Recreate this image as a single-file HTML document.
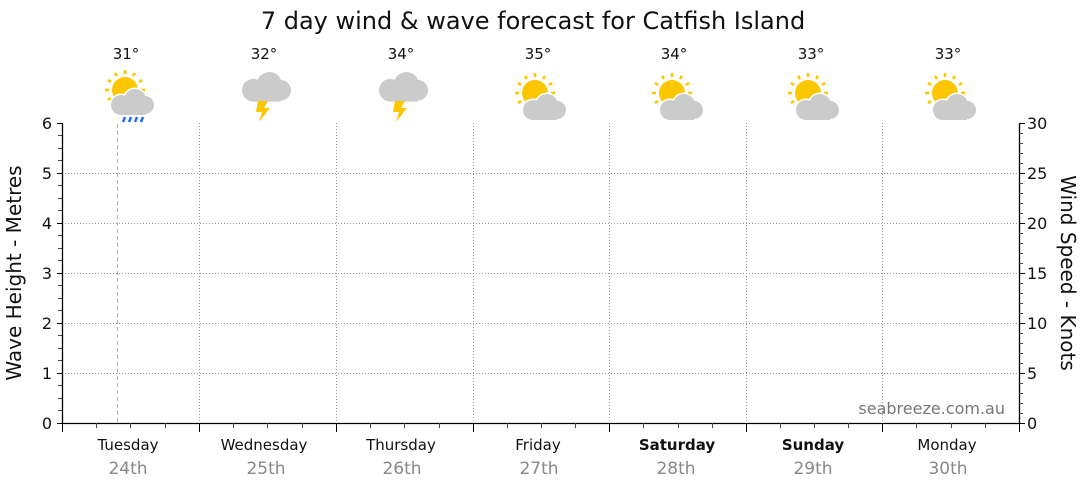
<!DOCTYPE html>
<html><head><meta charset="utf-8"><style>
html,body{margin:0;padding:0;background:#fff;}
svg{display:block;font-family:"DejaVu Sans","Liberation Sans",sans-serif;}
</style></head><body>
<svg width="1080" height="490" viewBox="0 0 1080 490" xmlns="http://www.w3.org/2000/svg">
<defs>
  <g id="sun">
    <circle cx="0" cy="0" r="13" fill="#fdc700"/>
    <g stroke="#fdc700" stroke-width="2.6">
      <line x1="0" y1="-16" x2="0" y2="-20"/>
      <line x1="0" y1="16" x2="0" y2="20"/>
      <line x1="-16" y1="0" x2="-20" y2="0"/>
      <line x1="16" y1="0" x2="20" y2="0"/>
      <line x1="8" y1="-14" x2="10" y2="-17"/>
      <line x1="-8" y1="-14" x2="-10" y2="-17"/>
      <line x1="-14" y1="-8" x2="-17" y2="-10"/>
      <line x1="14" y1="-8" x2="17" y2="-10"/>
      <line x1="-14" y1="8" x2="-17" y2="10"/>
      <line x1="-8" y1="14" x2="-10" y2="17"/>
    </g>
  </g>
  <g id="cloudw">
    <circle cx="10" cy="16" r="11.5" fill="#fff"/>
    <circle cx="24" cy="11" r="12.5" fill="#fff"/>
    <circle cx="34" cy="16" r="10.5" fill="#fff"/>
  </g>
  <g id="cloud" fill="#cbcbcb">
    <circle cx="10" cy="16" r="10"/>
    <circle cx="24" cy="11" r="11"/>
    <circle cx="34" cy="16" r="9"/>
    <rect x="10" y="14" width="24" height="12"/>
  </g>
  <g id="sc">
    <use href="#sun" x="12" y="-1"/>
    <use href="#cloudw"/>
    <use href="#cloud"/>
  </g>
  <g id="storm">
    <use href="#cloud" transform="scale(1.14)"/>
    <path d="M16,29 L26,29 L22,36 L28,36 L17,50 L20,40 L14,40 Z" fill="#fdc700"/>
  </g>
</defs>

<text x="533" y="29" font-size="24" text-anchor="middle" fill="#111">7 day wind &amp; wave forecast for Catfish Island</text>

<g stroke="#999" stroke-width="1" stroke-dasharray="1,2">
  <line x1="62" y1="173.5" x2="1019" y2="173.5"/>
  <line x1="62" y1="223.5" x2="1019" y2="223.5"/>
  <line x1="62" y1="273.5" x2="1019" y2="273.5"/>
  <line x1="62" y1="323.5" x2="1019" y2="323.5"/>
  <line x1="62" y1="373.5" x2="1019" y2="373.5"/>
  <line x1="199.5" y1="123" x2="199.5" y2="423"/>
  <line x1="336.5" y1="123" x2="336.5" y2="423"/>
  <line x1="473.5" y1="123" x2="473.5" y2="423"/>
  <line x1="609.5" y1="123" x2="609.5" y2="423"/>
  <line x1="746.5" y1="123" x2="746.5" y2="423"/>
  <line x1="882.5" y1="123" x2="882.5" y2="423"/>
</g>
<line x1="117.5" y1="124" x2="117.5" y2="423" stroke="#e8a0a0" stroke-dasharray="4,3"/>

<g stroke="#000" stroke-width="1.3">
  <line x1="62.5" y1="123" x2="62.5" y2="423"/>
  <line x1="1019.5" y1="123" x2="1019.5" y2="423"/>
  <line x1="62" y1="423.5" x2="1020" y2="423.5"/>
</g>
<g stroke="#000" stroke-width="1">
  <path d="M57,123.5H62M57,173.5H62M57,223.5H62M57,273.5H62M57,323.5H62M57,373.5H62M57,423.5H62"/>
  <path d="M1019,123.5H1025M1019,173.5H1025M1019,223.5H1025M1019,273.5H1025M1019,323.5H1025M1019,373.5H1025M1019,423.5H1025"/>
  <path d="M62.5,423V432M199.5,423V432M336.5,423V432M473.5,423V432M609.5,423V432M746.5,423V432M882.5,423V432M1019.5,423V432"/>
</g>

<g font-size="16" fill="#111" text-anchor="end">
  <text x="52" y="129">6</text><text x="52" y="179">5</text><text x="52" y="229">4</text><text x="52" y="279">3</text><text x="52" y="329">2</text><text x="52" y="379">1</text><text x="52" y="429">0</text>
</g>
<g font-size="16" fill="#111">
  <text x="1027" y="129">30</text><text x="1027" y="179">25</text><text x="1027" y="229">20</text><text x="1027" y="279">15</text><text x="1027" y="329">10</text><text x="1027" y="379">5</text><text x="1027" y="429">0</text>
</g>
<text transform="translate(21,273) rotate(-90)" font-size="20" text-anchor="middle" fill="#111">Wave Height - Metres</text>
<text transform="translate(1061,273) rotate(90)" font-size="20" text-anchor="middle" fill="#111">Wind Speed - Knots</text>

<text x="1005" y="414" font-size="16" text-anchor="end" fill="#777">seabreeze.com.au</text>

<g font-size="15" text-anchor="middle" fill="#111">
  <text x="128" y="450">Tuesday</text>
  <text x="264" y="450">Wednesday</text>
  <text x="401" y="450">Thursday</text>
  <text x="538" y="450">Friday</text>
  <text x="677" y="450" font-weight="bold">Saturday</text>
  <text x="813" y="450" font-weight="bold">Sunday</text>
  <text x="947" y="450">Monday</text>
</g>
<g font-size="17" text-anchor="middle" fill="#888">
  <text x="128" y="474">24th</text><text x="266" y="474">25th</text><text x="402" y="474">26th</text><text x="539" y="474">27th</text><text x="676" y="474">28th</text><text x="813" y="474">29th</text><text x="948" y="474">30th</text>
</g>

<g font-size="15" text-anchor="middle" fill="#111">
  <text x="126" y="59">31°</text><text x="264" y="59">32°</text><text x="401" y="59">34°</text><text x="538" y="59">35°</text><text x="674" y="59">34°</text><text x="811" y="59">33°</text><text x="948" y="59">33°</text>
</g>

<g>
  <use href="#sun" x="125" y="90"/>
  <use href="#cloudw" x="111" y="89"/>
  <use href="#cloud" x="111" y="89"/>
  <g stroke="#1a6cf0" stroke-width="2.4"><line x1="125" y1="117" x2="123" y2="122"/><line x1="131" y1="117" x2="129" y2="122"/><line x1="137" y1="117" x2="135" y2="122"/><line x1="143" y1="117" x2="141" y2="122"/></g>
  <use href="#storm" x="242" y="72"/>
  <use href="#storm" x="379" y="72"/>
  <use href="#sc" x="523" y="94"/>
  <use href="#sc" x="660" y="94"/>
  <use href="#sc" x="796" y="94"/>
  <use href="#sc" x="933" y="94"/>
</g>
<g stroke="#444" stroke-width="1">
  <path d="M58,135.5H62M58,148.5H62M58,160.5H62M58,185.5H62M58,198.5H62M58,210.5H62M58,235.5H62M58,248.5H62M58,260.5H62M58,285.5H62M58,298.5H62M58,310.5H62M58,335.5H62M58,348.5H62M58,360.5H62M58,385.5H62M58,398.5H62M58,410.5H62"/>
  <path d="M1019,133.5H1023M1019,143.5H1023M1019,153.5H1023M1019,163.5H1023M1019,183.5H1023M1019,193.5H1023M1019,203.5H1023M1019,213.5H1023M1019,233.5H1023M1019,243.5H1023M1019,253.5H1023M1019,263.5H1023M1019,283.5H1023M1019,293.5H1023M1019,303.5H1023M1019,313.5H1023M1019,333.5H1023M1019,343.5H1023M1019,353.5H1023M1019,363.5H1023M1019,383.5H1023M1019,393.5H1023M1019,403.5H1023M1019,413.5H1023"/>
  <path d="M96.5,423V428M130.5,423V428M165.5,423V428M233.5,423V428M267.5,423V428M302.5,423V428M370.5,423V428M404.5,423V428M439.5,423V428M507.5,423V428M541.5,423V428M575.5,423V428M643.5,423V428M678.5,423V428M712.5,423V428M780.5,423V428M814.5,423V428M848.5,423V428M916.5,423V428M951.5,423V428M985.5,423V428"/>
</g>
</svg>
</body></html>
